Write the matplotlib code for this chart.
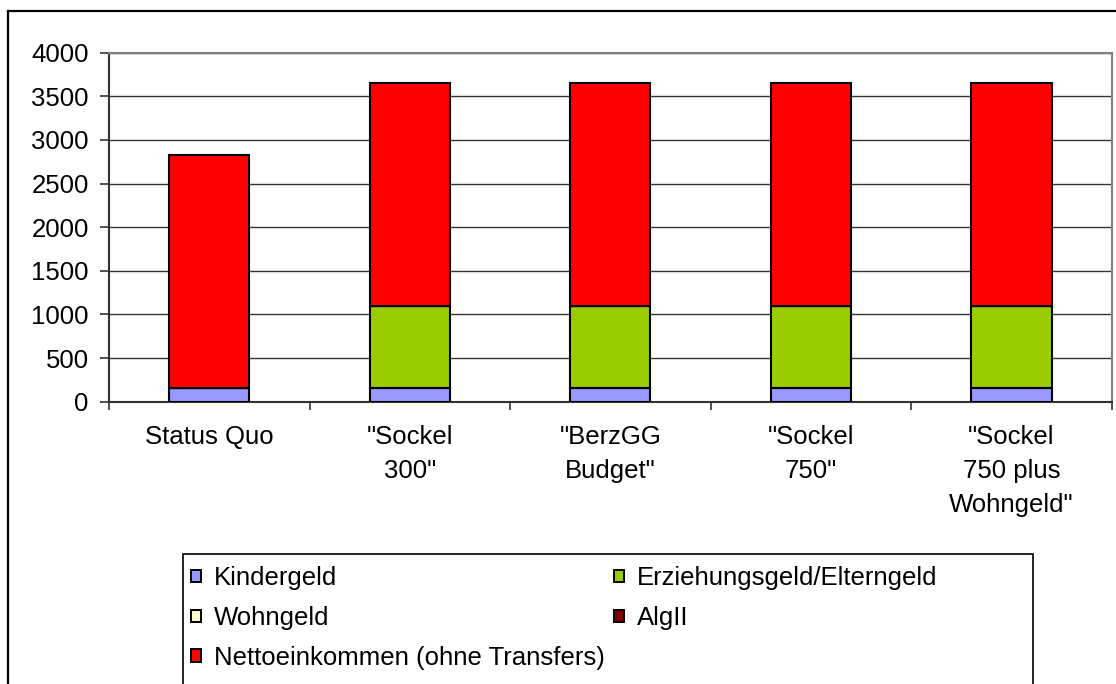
import matplotlib
matplotlib.use("Agg")
import matplotlib.pyplot as plt
from matplotlib.patches import Patch, Rectangle
from matplotlib.lines import Line2D
import numpy as np

categories = ['Status Quo', '"Sockel\n300"', '"BerzGG\nBudget"', '"Sockel\n750"',
              '"Sockel\n750 plus\nWohngeld"']
kindergeld = [154, 154, 154, 154, 154]
erziehungsgeld = [0, 946, 946, 946, 946]
wohngeld = [0, 0, 0, 0, 0]
algii = [0, 0, 0, 0, 0]
netto = [2674, 2550, 2550, 2550, 2550]

series_names = ['Kindergeld', 'Erziehungsgeld/Elterngeld', 'Wohngeld', 'AlgII',
                'Nettoeinkommen (ohne Transfers)']
series_colors = ['#9999FF', '#99CC00', '#FFFFCC', '#800000', '#FF0000']
yticks = [0, 500, 1000, 1500, 2000, 2500, 3000, 3500, 4000]

plt.rcParams['font.family'] = ['Liberation Sans', 'DejaVu Sans']
FS = 18.5

W, H = 1116, 684
fig = plt.figure(figsize=(W / 100, H / 100), dpi=100)

# outer chart frame (partly outside the picture)
fig.add_artist(Line2D([8 / W, 1.0], [1 - 10.7 / H, 1 - 10.7 / H], color='black', lw=1.6,
                      transform=fig.transFigure))
fig.add_artist(Line2D([8 / W, 8 / W], [0, 1 - 10.7 / H], color='black', lw=1.6,
                      transform=fig.transFigure))

left, right, top, bottom = 109, 1111.7, 52.7, 401.7
ax = fig.add_axes([left / W, 1 - bottom / H, (right - left) / W, (bottom - top) / H])

x = np.arange(len(categories))
stack = [kindergeld, erziehungsgeld, wohngeld, algii, netto]
base = np.zeros(len(categories))
handles = []
for vals, name, col in zip(stack, series_names, series_colors):
    vals = np.array(vals, dtype=float)
    ax.bar(x, vals, 0.4, bottom=base, color=col, edgecolor='black', linewidth=1.5,
           zorder=3, label=name)
    base += vals
    handles.append(Patch(facecolor=col, edgecolor='black', linewidth=1.4, label=name))

ax.set_xlim(-0.5, len(categories) - 0.5)
ax.set_ylim(0, 4000)
ax.set_yticks(yticks)
ax.set_yticklabels([str(v) for v in yticks], fontsize=FS)
ax.yaxis.grid(True, color='#333333', linewidth=1.0, zorder=0)
ax.set_axisbelow(True)

ax.set_xticks(x)
ax.set_xticklabels(categories, fontsize=FS, linespacing=1.52)
ax.set_xticks(np.arange(-0.5, len(categories)), minor=True)
ax.tick_params(axis='x', which='major', length=0, pad=17)
ax.tick_params(axis='x', which='minor', length=6, width=1.2, direction='out', color='#333333')
ax.tick_params(axis='y', length=6.5, width=1.2, direction='out', pad=8, color='#333333')

for s in ['top', 'right']:
    ax.spines[s].set_color('#808080')
    ax.spines[s].set_linewidth(1.5)
for s in ['left', 'bottom']:
    ax.spines[s].set_color('#333333')
    ax.spines[s].set_linewidth(1.5)

# legend frame (extends beyond bottom of picture)
fig.add_artist(Rectangle((183 / W, -0.1), (1033 - 183) / W, 0.1 + 1 - 554 / H,
                         transform=fig.transFigure, fill=False, edgecolor='black', lw=1.2))
order = [0, 2, 4, 1, 3]
leg = fig.legend([handles[i] for i in order], [series_names[i] for i in order],
                 ncol=2, loc='upper left', bbox_to_anchor=(191 / W, 1 - 566 / H),
                 frameon=False, fontsize=FS, handlelength=0.4, handleheight=0.36,
                 handletextpad=0.5, labelspacing=0.62, columnspacing=0.35, borderpad=0,
                 borderaxespad=0)

fig.savefig('out.png', dpi=100)
